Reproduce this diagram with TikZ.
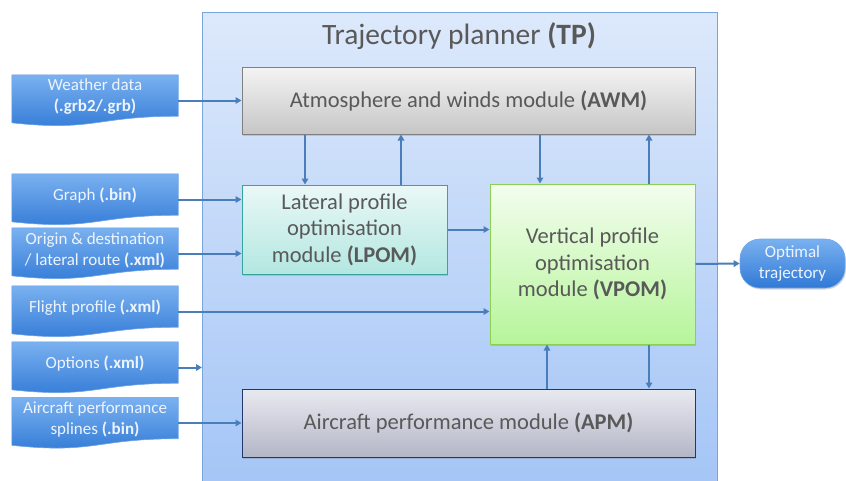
\documentclass[tikz,border=0pt]{standalone}
\usepackage{fontspec}
\setmainfont{Carlito}
\usetikzlibrary{arrows.meta,calc,shadows}

\definecolor{linkblue}{HTML}{4A7EBB}
\definecolor{tpTop}{HTML}{DDE9FB}
\definecolor{tpBot}{HTML}{A2C4F6}
\definecolor{tpLine}{HTML}{7AA5DA}
\definecolor{awmTop}{HTML}{F4F4F4}
\definecolor{awmBot}{HTML}{C6C6C6}
\definecolor{awmLine}{HTML}{808080}
\definecolor{lpTop}{HTML}{EAF8F7}
\definecolor{lpBot}{HTML}{B3E7E1}
\definecolor{lpLine}{HTML}{36A69B}
\definecolor{vpTop}{HTML}{F3FDEF}
\definecolor{vpBot}{HTML}{B6F59A}
\definecolor{vpLine}{HTML}{8CCF55}
\definecolor{apTop}{HTML}{E9E9F0}
\definecolor{apBot}{HTML}{B3B6C6}
\definecolor{apLine}{HTML}{23376A}
\definecolor{docTop}{HTML}{7AB1F0}
\definecolor{docBot}{HTML}{3079D6}
\definecolor{docLine}{HTML}{6FA6EA}
\definecolor{docText}{HTML}{EEF4FD}
\definecolor{modText}{HTML}{595959}

\pgfdeclarelayer{background}
\pgfsetlayers{background,main}

% wavy "document" outline behind an input node
\newcommand\docshape[1]{%
  \begin{pgfonlayer}{background}
    \fill[black,opacity=0.22,shift={(1.5,2.5)}]
      (#1.north west) -- (#1.north east) -- ($(#1.south east)+(0,-3)$)
      .. controls ($(#1.south)+(0,-3)$) and ($(#1.south)+(0,12.5)$) ..
      ($(#1.south west)+(0,3.6)$) -- cycle;
    \path[top color=docTop,bottom color=docBot,draw=docLine,line width=0.6pt]
      (#1.north west) -- (#1.north east) -- ($(#1.south east)+(0,-3)$)
      .. controls ($(#1.south)+(0,-3)$) and ($(#1.south)+(0,12.5)$) ..
      ($(#1.south west)+(0,3.6)$) -- cycle;
  \end{pgfonlayer}}

\begin{document}
\begin{tikzpicture}[x=1pt,y=-1pt,
  module/.style={draw,line width=1pt,align=center,inner sep=0pt,
    text=modText,font=\fontsize{22.5}{26.5}\selectfont,
    drop shadow={shadow xshift=1pt,shadow yshift=-1.5pt,opacity=0.3}},
  inbox/.style={minimum width=166pt,minimum height=44pt,inner sep=0pt,
    align=center,text=docText,font=\fontsize{17}{21}\selectfont},
  arr/.style={draw=linkblue,line width=2pt,
    -{Triangle[length=6pt,width=6.5pt]}}]

\useasboundingbox (0,0) rectangle (846,480);

% trajectory planner container
\node[draw=tpLine,line width=1pt,top color=tpTop,bottom color=tpBot,
  minimum width=515pt,minimum height=490pt,inner sep=0pt,anchor=north west]
  (tp) at (202,12) {};
\node[text=modText,font=\fontsize{29.5}{34}\selectfont,anchor=base]
  (tptitle) at (459,44) {Trajectory planner \textbf{(TP)}};

% modules
\node[module,draw=awmLine,top color=awmTop,bottom color=awmBot,
  minimum width=453pt,minimum height=67pt] (awm) at (468.5,100.5)
  {Atmosphere and winds module \textbf{(AWM)}};
\node[module,draw=lpLine,top color=lpTop,bottom color=lpBot,
  minimum width=205pt,minimum height=89pt] (lpom) at (344.5,229.5)
  {Lateral profile\\optimisation\\module \textbf{(LPOM)}};
\node[module,draw=vpLine,top color=vpTop,bottom color=vpBot,
  minimum width=205pt,minimum height=160pt] (vpom) at (592.5,264)
  {Vertical profile\\optimisation\\module \textbf{(VPOM)}};
\node[module,draw=apLine,top color=apTop,bottom color=apBot,
  minimum width=453pt,minimum height=68pt] (apm) at (468.5,423)
  {Aircraft performance module \textbf{(APM)}};

% inputs
\node[inbox] (wd) at (95,97) {Weather data\\\textbf{(.grb2/.grb)}};
\node[inbox] (gr) at (95,196) {Graph \textbf{(.bin)}};
\node[inbox] (od) at (95,250) {Origin \& destination\\/ lateral route \textbf{(.xml)}};
\node[inbox] (fp) at (95,308) {Flight profile \textbf{(.xml)}};
\node[inbox] (op) at (95,364) {Options \textbf{(.xml)}};
\node[inbox] (ac) at (95,419.5) {Aircraft performance\\splines \textbf{(.bin)}};
\foreach \n in {wd,gr,od,fp,op,ac}{\docshape{\n}}

% output
\node[rounded corners=20pt,minimum width=105pt,minimum height=49pt,
  inner sep=0pt,top color=docTop,bottom color=docBot,draw=docLine,
  line width=0.6pt,text=docText,align=center,
  font=\fontsize{17}{21}\selectfont,
  drop shadow={shadow xshift=1pt,shadow yshift=-1.5pt,opacity=0.3}]
  (opt) at (792.5,263.5) {Optimal\\trajectory};

% input links
\foreach \n in {wd,gr,od,fp,op,ac}{\coordinate (\n-out) at ($(\n.east)+(0,3.5)$);}
\draw[arr] (wd-out) -- (wd-out -| awm.west);
\draw[arr] (gr-out) -- (gr-out -| lpom.west);
\draw[arr] (od-out) -- (od-out -| lpom.west);
\draw[arr] (fp-out) -- (fp-out -| vpom.west);
\draw[arr] (op-out) -- (op-out -| tp.west);
\draw[arr] (ac-out) -- (ac-out -| apm.west);

% module links
\draw[arr] (305,0 |- awm.south) -- (305,0 |- lpom.north);
\draw[arr] (401,0 |- lpom.north) -- (401,0 |- awm.south);
\draw[arr] (540,0 |- awm.south) -- (540,0 |- vpom.north);
\draw[arr] (649,0 |- vpom.north) -- (649,0 |- awm.south);
\draw[arr] (lpom.east) -- (vpom.west |- lpom.east);
\draw[arr] (547,0 |- apm.north) -- (547,0 |- vpom.south);
\draw[arr] (649,0 |- vpom.south) -- (649,0 |- apm.north);
\draw[arr] (vpom.east) -- (opt.west);
\end{tikzpicture}
\end{document}
